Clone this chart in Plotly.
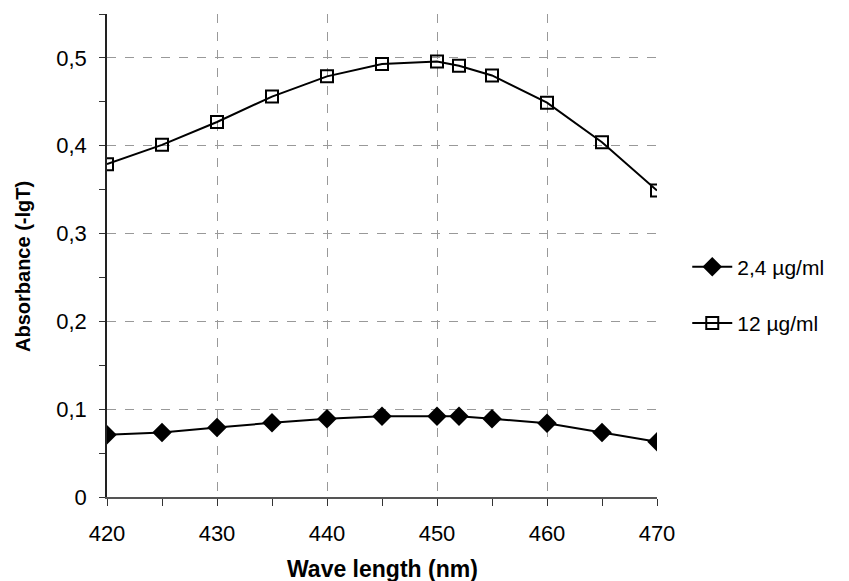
import plotly.graph_objects as go

wavelength = [420, 425, 430, 435, 440, 445, 450, 452, 455, 460, 465, 470]
abs_2_4 = [0.071, 0.0735, 0.079, 0.0845, 0.089, 0.092, 0.092, 0.092, 0.089, 0.084, 0.0735, 0.063]
abs_12 = [0.379, 0.401, 0.427, 0.456, 0.479, 0.493, 0.496, 0.491, 0.480, 0.449, 0.404, 0.349]

series_names = ["2,4 µg/ml", "12 µg/ml"]
x_title = "<b>Wave length (nm)</b>"
y_title = "<b>Absorbance (-lgT)</b>"

FONT = "Liberation Sans, Arial, sans-serif"

fig = go.Figure()
fig.add_trace(go.Scatter(
    x=wavelength, y=abs_2_4, mode="lines+markers", name=series_names[0],
    legendgroup="a",
    line=dict(color="black", width=2),
    marker=dict(symbol="diamond", size=15, color="black"),
))
fig.add_trace(go.Scatter(
    x=wavelength, y=abs_12, mode="lines+markers", name=series_names[1],
    legendgroup="b",
    line=dict(color="black", width=2),
    marker=dict(symbol="square-open", size=12, color="black", line=dict(width=2, color="black")),
))

fig.update_layout(
    width=849, height=581,
    margin=dict(l=107, r=192, t=14, b=84),
    paper_bgcolor="white", plot_bgcolor="white",
    separators=",.",
    font=dict(family=FONT, size=20, color="black"),
    showlegend=True,
    legend=dict(x=1.055, y=0.418, xanchor="left", yanchor="middle",
                font=dict(size=21), tracegroupgap=26, bgcolor="rgba(0,0,0,0)",
                itemwidth=40),
    xaxis=dict(
        range=[420, 470], dtick=10, tick0=420,
        automargin=False,
        showline=True, linecolor="#555", linewidth=2,
        ticks="outside", ticklen=7, tickcolor="#333", tickwidth=1,
        minor=dict(dtick=5, ticks="outside", ticklen=7, tickcolor="#333", showgrid=False),
        showgrid=True, gridcolor="#999", griddash="dash", gridwidth=1,
        zeroline=False,
        tickfont=dict(size=22),
        ticklabelstandoff=9,
    ),
    yaxis=dict(
        range=[0, 0.55], dtick=0.1, tick0=0,
        automargin=False,
        showline=True, linecolor="#222", linewidth=1.5,
        ticks="outside", ticklen=6, tickcolor="#333", tickwidth=1,
        minor=dict(dtick=0.05, ticks="outside", ticklen=6, tickcolor="#333", showgrid=False),
        showgrid=True, gridcolor="#999", griddash="dash", gridwidth=1,
        zeroline=False,
        tickfont=dict(size=22),
        ticklabelstandoff=8,
    ),
    annotations=[
        dict(text=x_title, xref="paper", yref="paper", x=0.5, y=-0.149,
             xanchor="center", yanchor="middle", showarrow=False,
             font=dict(size=23, family=FONT, color="black")),
        dict(text=y_title, xref="paper", yref="paper", x=-0.153, y=0.478,
             xanchor="center", yanchor="middle", showarrow=False, textangle=-90,
             font=dict(size=20, family=FONT, color="black")),
    ],
)

fig.write_html("out.html")
